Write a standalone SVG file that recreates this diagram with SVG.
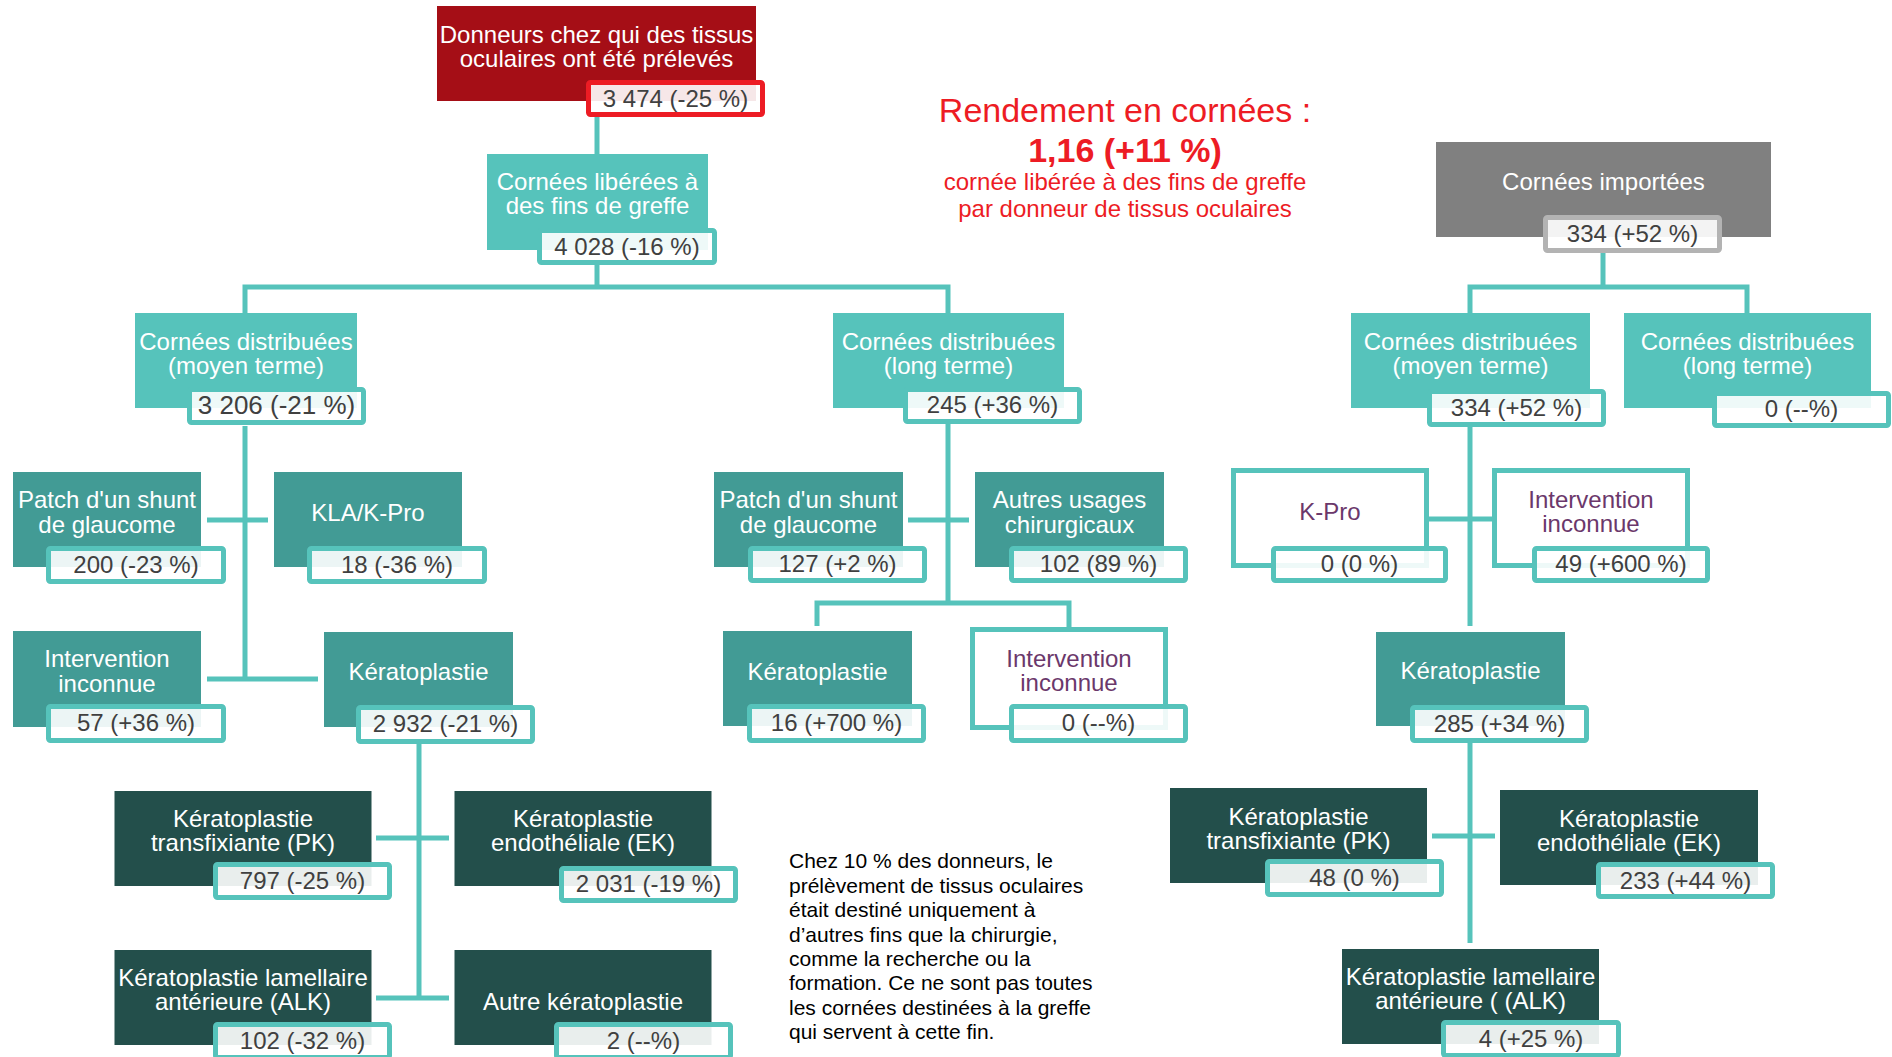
<svg xmlns="http://www.w3.org/2000/svg" width="1892" height="1057" viewBox="0 0 1892 1057">
<style>
text{font-family:"Liberation Sans",Arial,sans-serif}
.nt{font-size:24px;fill:#fff;text-anchor:middle}
.pt{font-size:24px;fill:#6b386b;text-anchor:middle}
.vt{font-size:24px;fill:#404040;text-anchor:middle}
.vb{fill:#fff;fill-opacity:0.9;stroke:#56c3bb;stroke-width:5}
.vr{stroke:#ed1c24}
.vg{stroke:#b3b3b3}
.red{fill:#a50e16}
.gray{fill:#808080}
.t1{fill:#56c3bb}
.t2{fill:#429b95}
.t3{fill:#234f4b}
.wb{fill:#fff;stroke:#56c3bb;stroke-width:5}
.c{fill:none;stroke:#56c3bb;stroke-width:5}
.rt{fill:#ed1c24;text-anchor:middle}
.note{font-size:21px;fill:#000}
</style>
<g id="connectors" class="c">
<path d="M597 117V154"/>
<path d="M597 265V287M245 313V287H948V313"/>
<path d="M245 426V679M207 520H268M207 679H318"/>
<path d="M419 744V998M376 838H449M376 998H449"/>
<path d="M948 424V603M908 520H969M817 626V603H1069V628"/>
<path d="M1603 253V287M1470 313V287H1747V313"/>
<path d="M1470 427V626M1429 519H1492"/>
<path d="M1470 743V943M1432 836H1495"/>
</g>
<g id="n-donneurs"><rect class="red" x="437" y="6" width="319" height="95"/><text class="nt" x="596.5" y="43">Donneurs chez qui des tissus</text><text class="nt" x="596.5" y="67">oculaires ont été prélevés</text><rect class="vb vr" x="588.5" y="82.5" width="174" height="32" rx="2"/><text class="vt" x="675.5" y="106.5">3 474 (-25 %)</text></g>
<g id="n-liberees"><rect class="t1" x="487" y="154" width="221" height="96"/><text class="nt" x="597.5" y="190">Cornées libérées à</text><text class="nt" x="597.5" y="214">des fins de greffe</text><rect class="vb" x="539.5" y="230.5" width="175" height="32" rx="2"/><text class="vt" x="627" y="254.5">4 028 (-16 %)</text></g>
<g id="n-moyen-l"><rect class="t1" x="135" y="313" width="222" height="95"/><text class="nt" x="246" y="350">Cornées distribuées</text><text class="nt" x="246" y="374">(moyen terme)</text><rect class="vb" x="189.5" y="389.5" width="174" height="33" rx="2"/><text class="vt" x="276.5" y="414" style="font-size:26px">3 206 (-21 %)</text></g>
<g id="n-long-m"><rect class="t1" x="833" y="313" width="231" height="95"/><text class="nt" x="948.5" y="350">Cornées distribuées</text><text class="nt" x="948.5" y="374">(long terme)</text><rect class="vb" x="905.5" y="389.5" width="174" height="32" rx="2"/><text class="vt" x="992.5" y="413">245 (+36 %)</text></g>
<g id="n-patch-l"><rect class="t2" x="13" y="472" width="188" height="95"/><text class="nt" x="107" y="508">Patch d'un shunt</text><text class="nt" x="107" y="533">de glaucome</text><rect class="vb" x="48.5" y="548.5" width="175" height="33" rx="2"/><text class="vt" x="136" y="572.5">200 (-23 %)</text></g>
<g id="n-kla-l"><rect class="t2" x="274" y="472" width="188" height="95"/><text class="nt" x="368" y="521">KLA/K-Pro</text><rect class="vb" x="309.5" y="548.5" width="175" height="33" rx="2"/><text class="vt" x="397" y="572.5">18 (-36 %)</text></g>
<g id="n-inter-l"><rect class="t2" x="13" y="631" width="188" height="96"/><text class="nt" x="107" y="667">Intervention</text><text class="nt" x="107" y="692">inconnue</text><rect class="vb" x="48.5" y="706.5" width="175" height="34" rx="2"/><text class="vt" x="136" y="731">57 (+36 %)</text></g>
<g id="n-kerato-l"><rect class="t2" x="324" y="632" width="189" height="95"/><text class="nt" x="418.5" y="680">Kératoplastie</text><rect class="vb" x="358.5" y="707.5" width="174" height="34" rx="2"/><text class="vt" x="445.5" y="731.5">2 932 (-21 %)</text></g>
<g id="n-pk-l"><rect class="t3" x="114.5" y="791" width="257" height="95"/><text class="nt" x="243" y="827">Kératoplastie</text><text class="nt" x="243" y="851">transfixiante (PK)</text><rect class="vb" x="215.5" y="864.5" width="174" height="33" rx="2"/><text class="vt" x="302.5" y="888.5">797 (-25 %)</text></g>
<g id="n-ek-l"><rect class="t3" x="454.5" y="791" width="257" height="95"/><text class="nt" x="583" y="827">Kératoplastie</text><text class="nt" x="583" y="851">endothéliale (EK)</text><rect class="vb" x="561.5" y="868.5" width="174" height="32" rx="2"/><text class="vt" x="648.5" y="892">2 031 (-19 %)</text></g>
<g id="n-alk-l"><rect class="t3" x="114.5" y="950" width="257" height="95"/><text class="nt" x="243" y="986">Kératoplastie lamellaire</text><text class="nt" x="243" y="1010">antérieure (ALK)</text><rect class="vb" x="215.5" y="1024.5" width="174" height="33" rx="2"/><text class="vt" x="302.5" y="1048.5">102 (-32 %)</text></g>
<g id="n-autre-l"><rect class="t3" x="454.5" y="950" width="257" height="95"/><text class="nt" x="583" y="1010">Autre kératoplastie</text><rect class="vb" x="556.5" y="1024.5" width="174" height="33" rx="2"/><text class="vt" x="643.5" y="1048.5">2 (--%)</text></g>
<g id="n-patch-m"><rect class="t2" x="714" y="472" width="189" height="95"/><text class="nt" x="808.5" y="508">Patch d'un shunt</text><text class="nt" x="808.5" y="533">de glaucome</text><rect class="vb" x="750.5" y="548.5" width="174" height="32" rx="2"/><text class="vt" x="837.5" y="572">127 (+2 %)</text></g>
<g id="n-autres-m"><rect class="t2" x="975" y="472" width="189" height="95"/><text class="nt" x="1069.5" y="508">Autres usages</text><text class="nt" x="1069.5" y="533">chirurgicaux</text><rect class="vb" x="1011.5" y="548.5" width="174" height="32" rx="2"/><text class="vt" x="1098.5" y="572">102 (89 %)</text></g>
<g id="n-kerato-m"><rect class="t2" x="723" y="631" width="189" height="95"/><text class="nt" x="817.5" y="680">Kératoplastie</text><rect class="vb" x="749.5" y="706.5" width="174" height="34" rx="2"/><text class="vt" x="836.5" y="731">16 (+700 %)</text></g>
<g id="n-inter-m"><rect class="wb" x="972.5" y="629.5" width="193" height="98"/><text class="pt" x="1069" y="667">Intervention</text><text class="pt" x="1069" y="691">inconnue</text><rect class="vb" x="1011.5" y="706.5" width="174" height="34" rx="2"/><text class="vt" x="1098.5" y="731">0 (--%)</text></g>
<g id="n-importees"><rect class="gray" x="1436" y="142" width="335" height="95"/><text class="nt" x="1603.5" y="190">Cornées importées</text><rect class="vb vg" x="1545.5" y="217.5" width="174" height="33" rx="2"/><text class="vt" x="1632.5" y="241.5">334 (+52 %)</text></g>
<g id="n-moyen-r"><rect class="t1" x="1351" y="313" width="239" height="95"/><text class="nt" x="1470.5" y="350">Cornées distribuées</text><text class="nt" x="1470.5" y="374">(moyen terme)</text><rect class="vb" x="1429.5" y="391.5" width="174" height="33" rx="2"/><text class="vt" x="1516.5" y="415.5">334 (+52 %)</text></g>
<g id="n-long-r"><rect class="t1" x="1624" y="313" width="247" height="95"/><text class="nt" x="1747.5" y="350">Cornées distribuées</text><text class="nt" x="1747.5" y="374">(long terme)</text><rect class="vb" x="1714.5" y="393.5" width="174" height="32" rx="2"/><text class="vt" x="1801.5" y="417">0 (--%)</text></g>
<g id="n-kpro-r"><rect class="wb" x="1233.5" y="470.5" width="193" height="95"/><text class="pt" x="1330" y="520">K-Pro</text><rect class="vb" x="1273.5" y="548.5" width="172" height="32" rx="2"/><text class="vt" x="1359.5" y="572">0 (0 %)</text></g>
<g id="n-inter-r"><rect class="wb" x="1494.5" y="470.5" width="193" height="95"/><text class="pt" x="1591" y="508">Intervention</text><text class="pt" x="1591" y="532">inconnue</text><rect class="vb" x="1534.5" y="548.5" width="173" height="32" rx="2"/><text class="vt" x="1621" y="572">49 (+600 %)</text></g>
<g id="n-kerato-r"><rect class="t2" x="1376" y="632" width="189" height="94"/><text class="nt" x="1470.5" y="679">Kératoplastie</text><rect class="vb" x="1412.5" y="707.5" width="174" height="33" rx="2"/><text class="vt" x="1499.5" y="731.5">285 (+34 %)</text></g>
<g id="n-pk-r"><rect class="t3" x="1170" y="788" width="257" height="95"/><text class="nt" x="1298.5" y="825">Kératoplastie</text><text class="nt" x="1298.5" y="849">transfixiante (PK)</text><rect class="vb" x="1267.5" y="861.5" width="174" height="33" rx="2"/><text class="vt" x="1354.5" y="885.5">48 (0 %)</text></g>
<g id="n-ek-r"><rect class="t3" x="1500" y="790" width="258" height="95"/><text class="nt" x="1629" y="827">Kératoplastie</text><text class="nt" x="1629" y="851">endothéliale (EK)</text><rect class="vb" x="1598.5" y="864.5" width="174" height="32" rx="2"/><text class="vt" x="1685.5" y="888.5">233 (+44 %)</text></g>
<g id="n-alk-r"><rect class="t3" x="1342" y="949" width="257" height="95"/><text class="nt" x="1470.5" y="985">Kératoplastie lamellaire</text><text class="nt" x="1470.5" y="1009">antérieure ( (ALK)</text><rect class="vb" x="1443.5" y="1022.5" width="175" height="33" rx="2"/><text class="vt" x="1531" y="1046.5">4 (+25 %)</text></g>
<g id="rendement">
<text class="rt" x="1125" y="122" style="font-size:34px">Rendement en cornées :</text>
<text class="rt" x="1125" y="162" style="font-size:34px;font-weight:bold">1,16 (+11 %)</text>
<text class="rt" x="1125" y="190" style="font-size:24px">cornée libérée à des fins de greffe</text>
<text class="rt" x="1125" y="217" style="font-size:24px">par donneur de tissus oculaires</text>
</g>
<g id="note" class="note">
<text class="note" x="789" y="868">Chez 10 % des donneurs, le</text>
<text class="note" x="789" y="892.5">prélèvement de tissus oculaires</text>
<text class="note" x="789" y="917">était destiné uniquement à</text>
<text class="note" x="789" y="941.5">d’autres fins que la chirurgie,</text>
<text class="note" x="789" y="966">comme la recherche ou la</text>
<text class="note" x="789" y="990">formation. Ce ne sont pas toutes</text>
<text class="note" x="789" y="1014.5">les cornées destinées à la greffe</text>
<text class="note" x="789" y="1039">qui servent à cette fin.</text>
</g>
</svg>
